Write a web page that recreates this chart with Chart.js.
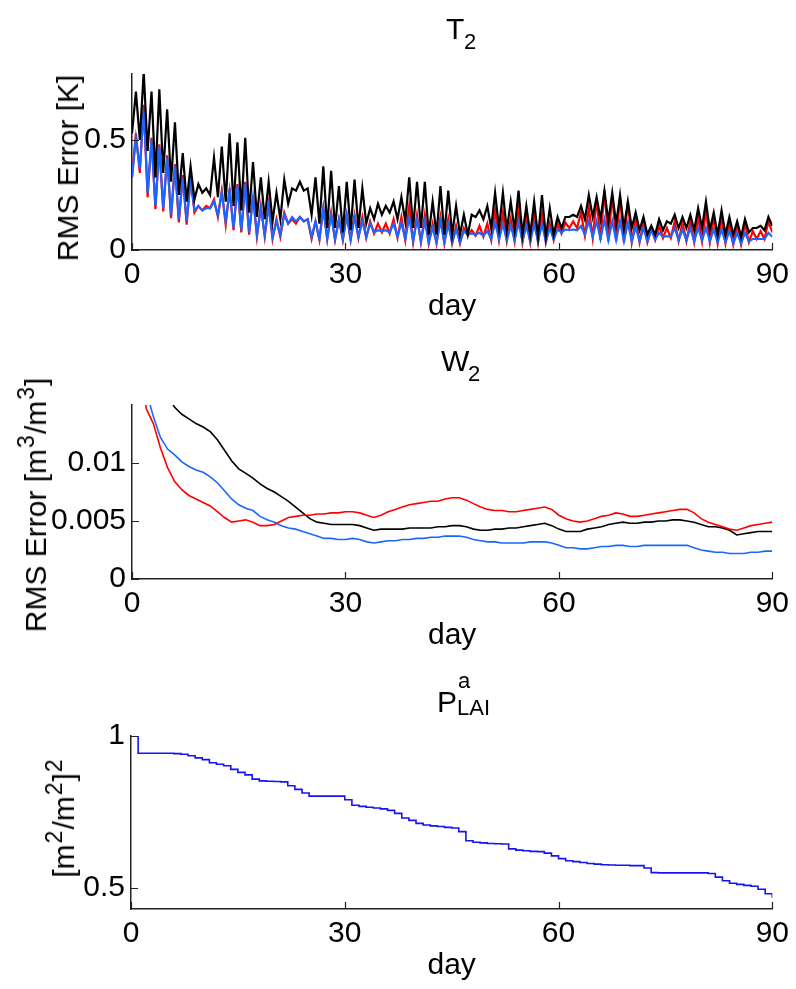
<!DOCTYPE html>
<html><head><meta charset="utf-8">
<script src="https://cdn.jsdelivr.net/npm/chart.js@4.4.1/dist/chart.umd.min.js"></script>
<style>
html,body{margin:0;padding:0;background:#fff;width:796px;height:989px;overflow:hidden;font-family:"Liberation Sans",Arial,sans-serif;}
canvas{position:absolute;left:0;}
.t{position:absolute;font-size:30px;color:#000;white-space:nowrap;line-height:1;}
.yl{position:absolute;font-size:30px;color:#000;white-space:nowrap;line-height:1;transform:translate(-50%,-50%) rotate(-90deg);}
.yl sup{font-size:23px;vertical-align:0;position:relative;top:-12px;margin:0 1px;}
</style></head><body>
<canvas id="c1" width="796" height="330" style="top:0px;width:796px;height:330px"></canvas>
<canvas id="c2" width="796" height="330" style="top:330px;width:796px;height:330px"></canvas>
<canvas id="c3" width="796" height="329" style="top:660px;width:796px;height:329px"></canvas>

<div class="t" style="left:446px;top:14px">T</div>
<div class="t" style="left:464px;top:31px;font-size:22px">2</div>
<div class="t" style="left:441px;top:346px">W</div>
<div class="t" style="left:468px;top:363px;font-size:22px">2</div>
<div class="t" style="left:437px;top:687px">P</div>
<div class="t" style="left:458px;top:670px;font-size:22px">a</div>
<div class="t" style="left:457px;top:697px;font-size:22px">LAI</div>

<div class="yl" style="left:68px;top:168px">RMS Error [K]</div>
<div class="yl" style="left:36px;top:505px">RMS Error [m<sup>3</sup>/m<sup>3</sup>]</div>
<div class="yl" style="left:64px;top:818px">[m<sup>2</sup>/m<sup>2</sup>]<sup>2</sup></div>

<script>
// ---------- shared axis ticks ----------
const X_TICKS = [0, 30, 60, 90];
const T2_Y_TICKS = [0, 0.5];
const W2_Y_TICKS = [0, 0.005, 0.01];
const P_Y_TICKS = [0.5, 1];

// ---------- T2 RMS error (K), sampled every 90/164 day ----------
const T2_DT = 90 / 164;
const T2_BLACK = [0.53,
0.72,0.5, 0.81,0.45, 0.72,0.33, 0.73,0.35, 0.64,0.31, 0.58,0.25, 0.44,0.22, 0.38,0.23, 0.3,0.26, 0.28,0.25,
0.42,0.24, 0.47,0.22, 0.53,0.2, 0.49,0.18, 0.51,0.17, 0.4,0.15, 0.33,0.14, 0.31,0.13, 0.26,0.14, 0.32,0.21,
0.28,0.27, 0.31,0.27, 0.28,0.16, 0.33,0.12, 0.38,0.1, 0.36,0.1, 0.29,0.08, 0.31,0.09, 0.32,0.1, 0.28,0.12,
0.19,0.14, 0.21,0.16, 0.2,0.17, 0.22,0.14, 0.24,0.13, 0.33,0.1, 0.31,0.1, 0.31,0.07, 0.22,0.07, 0.29,0.07,
0.27,0.07, 0.2,0.07, 0.16,0.07, 0.16,0.15, 0.18,0.14, 0.2,0.1, 0.26,0.1, 0.26,0.09, 0.22,0.09, 0.27,0.07,
0.2,0.07, 0.22,0.06, 0.25,0.06, 0.19,0.07, 0.15,0.1, 0.15,0.15, 0.16,0.15, 0.2,0.14, 0.25,0.15, 0.24,0.14,
0.27,0.13, 0.26,0.12, 0.25,0.1, 0.22,0.1, 0.17,0.09, 0.15,0.07, 0.11,0.07, 0.14,0.09, 0.13,0.12, 0.16,0.1,
0.15,0.1, 0.16,0.09, 0.19,0.1, 0.22,0.09, 0.17,0.07, 0.18,0.07, 0.15,0.07, 0.13,0.06, 0.14,0.08, 0.1,0.1,
0.11,0.09, 0.15,0.11];
const T2_RED = [0.33,
0.53,0.35, 0.66,0.24, 0.51,0.185, 0.48,0.175, 0.43,0.145, 0.39,0.125, 0.34,0.115, 0.33,0.17, 0.2,0.18, 0.2,0.19,
0.23,0.15, 0.27,0.115, 0.28,0.09, 0.3,0.08, 0.31,0.07, 0.25,0.06, 0.2,0.06, 0.21,0.05, 0.14,0.06, 0.17,0.12,
0.14,0.12, 0.15,0.13, 0.14,0.05, 0.13,0.045, 0.19,0.05, 0.17,0.045, 0.14,0.045, 0.16,0.045, 0.16,0.055, 0.15,0.055,
0.13,0.075, 0.12,0.08, 0.12,0.075, 0.14,0.055, 0.15,0.045, 0.2,0.035, 0.16,0.035, 0.16,0.03, 0.12,0.03, 0.15,0.03,
0.14,0.03, 0.11,0.03, 0.1,0.065, 0.09,0.065, 0.11,0.06, 0.12,0.045, 0.18,0.045, 0.17,0.04, 0.14,0.04, 0.18,0.035,
0.14,0.035, 0.16,0.035, 0.16,0.035, 0.12,0.045, 0.12,0.075, 0.125,0.1, 0.13,0.1, 0.17,0.065, 0.19,0.055, 0.23,0.045,
0.27,0.04, 0.25,0.04, 0.24,0.035, 0.22,0.035, 0.14,0.035, 0.125,0.035, 0.095,0.045, 0.11,0.055, 0.1,0.055, 0.13,0.04,
0.125,0.04, 0.13,0.035, 0.15,0.04, 0.18,0.035, 0.15,0.03, 0.147,0.03, 0.124,0.025, 0.116,0.025, 0.12,0.035, 0.085,0.05,
0.085,0.05, 0.13,0.08];
const T2_BLUE = [0.33,
0.51,0.37, 0.64,0.26, 0.5,0.2, 0.47,0.19, 0.42,0.16, 0.38,0.14, 0.33,0.13, 0.32,0.18, 0.2,0.18, 0.19,0.19,
0.22,0.16, 0.26,0.13, 0.27,0.1, 0.29,0.09, 0.3,0.08, 0.24,0.07, 0.19,0.07, 0.2,0.06, 0.13,0.07, 0.16,0.12,
0.15,0.13, 0.15,0.13, 0.14,0.06, 0.13,0.05, 0.19,0.05, 0.16,0.05, 0.14,0.05, 0.16,0.05, 0.15,0.06, 0.13,0.06,
0.12,0.08, 0.09,0.085, 0.09,0.08, 0.12,0.06, 0.124,0.05, 0.147,0.04, 0.14,0.04, 0.13,0.035, 0.1,0.035, 0.13,0.035,
0.116,0.035, 0.093,0.035, 0.086,0.07, 0.075,0.07, 0.078,0.065, 0.086,0.05, 0.124,0.05, 0.116,0.045, 0.109,0.045, 0.124,0.04,
0.109,0.04, 0.116,0.04, 0.116,0.04, 0.1,0.05, 0.093,0.08, 0.093,0.09, 0.093,0.09, 0.109,0.07, 0.131,0.06, 0.131,0.05,
0.139,0.045, 0.131,0.045, 0.131,0.04, 0.124,0.04, 0.105,0.04, 0.1,0.04, 0.093,0.05, 0.078,0.06, 0.063,0.06, 0.1,0.045,
0.093,0.045, 0.1,0.04, 0.1,0.045, 0.1,0.04, 0.093,0.035, 0.093,0.035, 0.086,0.03, 0.078,0.03, 0.078,0.04, 0.05,0.05,
0.05,0.05, 0.078,0.06];

// ---------- W2 RMS error (m3/m3), daily, days 0..90 ----------
const W2_RED = [null, 0.0185, 0.0147, 0.0134, 0.0113, 0.0096, 0.0084, 0.0077, 0.0072, 0.0069,
0.0066, 0.0063, 0.0058, 0.0053, 0.0049, 0.0050, 0.0051, 0.0049, 0.0046, 0.0046,
0.0047, 0.0050, 0.0053, 0.0054, 0.0055, 0.0055, 0.0056, 0.0056, 0.0057, 0.0057,
0.0058, 0.0058, 0.0057, 0.0055, 0.0053, 0.0055, 0.0058, 0.0060, 0.0062, 0.0064,
0.0065, 0.0066, 0.0067, 0.0067, 0.0069, 0.0070, 0.0070, 0.0068, 0.0065, 0.0062,
0.0060, 0.0059, 0.0059, 0.0058, 0.0058, 0.0059, 0.0060, 0.0061, 0.0062, 0.0060,
0.0055, 0.0052, 0.0050, 0.0049, 0.0050, 0.0052, 0.0054, 0.0055, 0.0057, 0.0056,
0.0054, 0.0054, 0.0055, 0.0056, 0.0057, 0.0058, 0.0059, 0.0060, 0.0060, 0.0057,
0.0052, 0.0049, 0.0047, 0.0045, 0.0043, 0.0042, 0.0044, 0.0046, 0.0047, 0.0048, 0.0049];
const W2_BLACK = [null, null, null, null, null, 0.0158, 0.0148, 0.0142, 0.0138, 0.0134,
0.0131, 0.0127, 0.0120, 0.0111, 0.0102, 0.0095, 0.0091, 0.0087, 0.0082, 0.0078,
0.0075, 0.0071, 0.0067, 0.0062, 0.0057, 0.0052, 0.0049, 0.0048, 0.0047, 0.0047,
0.0047, 0.0047, 0.0046, 0.0044, 0.0042, 0.0043, 0.0043, 0.0043, 0.0043, 0.0044,
0.0044, 0.0044, 0.0044, 0.0045, 0.0045, 0.0046, 0.0046, 0.0045, 0.0043, 0.0042,
0.0042, 0.0043, 0.0043, 0.0044, 0.0044, 0.0045, 0.0046, 0.0047, 0.0048, 0.0046,
0.0043, 0.0041, 0.0041, 0.0041, 0.0043, 0.0044, 0.0045, 0.0047, 0.0048, 0.0049,
0.0048, 0.0048, 0.0049, 0.0049, 0.0050, 0.0050, 0.0051, 0.0051, 0.0050, 0.0049,
0.0047, 0.0045, 0.0045, 0.0044, 0.0042, 0.0038, 0.0039, 0.0040, 0.0041, 0.0041, 0.0041];
const W2_BLUE = [null, null, 0.0162, 0.0140, 0.0122, 0.0112, 0.0107, 0.0101, 0.0097, 0.0094,
0.0092, 0.0088, 0.0083, 0.0076, 0.0069, 0.0064, 0.0061, 0.0059, 0.0054, 0.0051,
0.0049, 0.0046, 0.0044, 0.0043, 0.0041, 0.0039, 0.0037, 0.0035, 0.0035, 0.0034,
0.0034, 0.0035, 0.0034, 0.0032, 0.0031, 0.0032, 0.0033, 0.0033, 0.0034, 0.0034,
0.0035, 0.0035, 0.0036, 0.0036, 0.0037, 0.0037, 0.0037, 0.0036, 0.0034, 0.0033,
0.0032, 0.0032, 0.0031, 0.0031, 0.0031, 0.0031, 0.0032, 0.0032, 0.0032, 0.0031,
0.0029, 0.0027, 0.0027, 0.0026, 0.0026, 0.0027, 0.0028, 0.0028, 0.0029, 0.0029,
0.0028, 0.0028, 0.0029, 0.0029, 0.0029, 0.0029, 0.0029, 0.0029, 0.0029, 0.0027,
0.0025, 0.0024, 0.0023, 0.0023, 0.0022, 0.0022, 0.0022, 0.0023, 0.0023, 0.0024, 0.0024];

// ---------- P^a_LAI ((m2/m2)^2), daily, days 0..90 ----------
const P_LAI = [1.0, 0.943, 0.943, 0.943, 0.943, 0.943, 0.942, 0.94, 0.935, 0.928,
0.922, 0.912, 0.907, 0.902, 0.89, 0.88, 0.872, 0.858, 0.852, 0.851,
0.85, 0.849, 0.836, 0.824, 0.812, 0.802, 0.802, 0.802, 0.802, 0.802,
0.79, 0.772, 0.768, 0.765, 0.763, 0.76, 0.755, 0.745, 0.73, 0.722,
0.712, 0.707, 0.704, 0.702, 0.699, 0.697, 0.685, 0.655, 0.65, 0.648,
0.646, 0.645, 0.644, 0.628, 0.624, 0.622, 0.62, 0.619, 0.614, 0.605,
0.596, 0.589, 0.586, 0.583, 0.58, 0.578, 0.576, 0.575, 0.574, 0.574,
0.573, 0.573, 0.565, 0.55, 0.549, 0.549, 0.549, 0.549, 0.549, 0.549,
0.549, 0.547, 0.535, 0.523, 0.515, 0.511, 0.508, 0.505, 0.495, 0.48, 0.467];

const FONT = {family: '"Liberation Sans", Arial, sans-serif', size: 30};
const BLUE = 'rgb(26,102,255)';

const inwardTicks = {
  id: 'inwardTicks',
  afterDatasetsDraw(chart) {
    const {ctx, chartArea: a, scales: {x, y}} = chart;
    ctx.save();
    ctx.strokeStyle = '#222';
    ctx.lineWidth = 1.2;
    ctx.beginPath();
    x.ticks.forEach(t => { const px = Math.round(x.getPixelForValue(t.value)) + 0.5; ctx.moveTo(px, a.bottom); ctx.lineTo(px, a.bottom - 7); });
    y.ticks.forEach(t => { const py = Math.round(y.getPixelForValue(t.value)) + 0.5; ctx.moveTo(a.left, py); ctx.lineTo(a.left + 7, py); });
    ctx.stroke();
    ctx.restore();
  }
};

function toXY(values, dx) {
  return values.map((v, i) => ({x: i * dx, y: v}));
}

// datasets listed first are drawn on top
function makeChart(id, datasets, yMin, yMax, yTicks, pad) {
  return new Chart(document.getElementById(id), {
    type: 'line',
    data: {datasets},
    plugins: [inwardTicks],
    options: {
      responsive: false,
      animation: false,
      devicePixelRatio: 1,
      layout: {padding: pad},
      plugins: {legend: {display: false}, tooltip: {enabled: false}},
      elements: {point: {radius: 0}, line: {tension: 0}},
      scales: {
        x: {
          type: 'linear', min: 0, max: 90,
          afterBuildTicks: s => { s.ticks = X_TICKS.map(v => ({value: v})); },
          afterFit: s => { s.height = 75; },
          grid: {display: false, drawTicks: false},
          border: {display: true, color: '#222', width: 1.5},
          ticks: {font: FONT, color: '#000', padding: 7, maxRotation: 0, callback: v => String(v)},
          title: {display: true, text: 'day', font: FONT, color: '#000', padding: 0}
        },
        y: {
          type: 'linear', min: yMin, max: yMax,
          afterBuildTicks: s => { s.ticks = yTicks.map(v => ({value: v})); },
          afterFit: s => { s.width = 120; },
          grid: {display: false, drawTicks: false},
          border: {display: true, color: '#222', width: 1.5},
          ticks: {font: FONT, color: '#000', padding: 6, callback: v => String(v)}
        }
      }
    }
  });
}

makeChart('c1', [
  {data: toXY(T2_BLACK, T2_DT), borderColor: '#000000', borderWidth: 2.2},
  {data: toXY(T2_BLUE, T2_DT), borderColor: BLUE, borderWidth: 2.2},
  {data: toXY(T2_RED, T2_DT), borderColor: '#ff0000', borderWidth: 2.2}
], 0, 0.8, T2_Y_TICKS, {left: 12, right: 21, top: 74, bottom: 5});

makeChart('c2', [
  {data: toXY(W2_RED, 1), borderColor: '#ff0000', borderWidth: 1.6},
  {data: toXY(W2_BLACK, 1), borderColor: '#000000', borderWidth: 1.6},
  {data: toXY(W2_BLUE, 1), borderColor: BLUE, borderWidth: 1.6}
], 0, 0.015, W2_Y_TICKS, {left: 12, right: 21, top: 75, bottom: 6});

makeChart('c3', [
  {data: toXY(P_LAI, 1), borderColor: 'rgb(20,20,245)', borderWidth: 1.6, stepped: 'before'}
], 0.43, 1.0, P_Y_TICKS, {left: 11, right: 21, top: 76, bottom: 5});
</script>
</body></html>
